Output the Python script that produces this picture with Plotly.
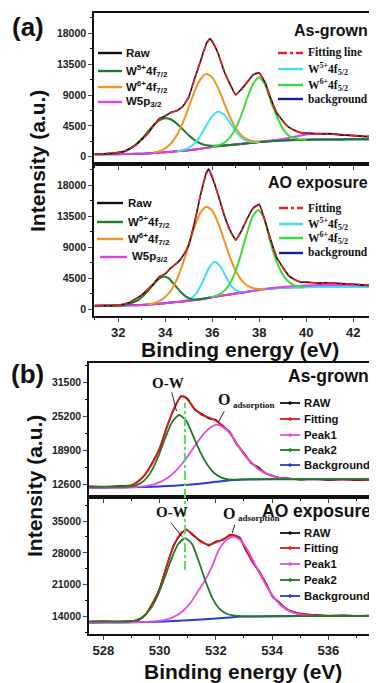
import plotly.graph_objects as go

# ---------------- DATA ----------------
# (a) W 4f, As-grown
be_a1 = [31.0, 31.25, 31.5, 31.75, 32.0, 32.25, 32.5, 32.75, 33.0, 33.25, 33.5, 33.75, 34.0, 34.25, 34.5, 34.75,
         35.0, 35.25, 35.5, 35.75, 35.9, 36.0, 36.25, 36.5, 36.75, 37.0, 37.25, 37.5, 37.75, 38.0, 38.25, 38.5,
         38.75, 39.0, 39.25, 39.5, 39.75, 40.0, 40.5, 41.0, 41.5, 42.0, 42.5, 43.0]
fit_a1 = [370, 390, 450, 520, 620, 740, 1150, 1750, 2450, 3350, 4450, 5450, 6000, 6400, 6750, 7300,
          8800, 11300, 14000, 16400, 17150, 16900, 15000, 12600, 10550, 9100, 9800, 11000, 11900, 12150, 10900, 8300,
          6450, 5150, 4350, 3800, 3550, 3420, 3380, 3320, 3220, 3080, 2980, 2920]
raw_a1 = [390, 360, 470, 500, 650, 720, 1200, 1700, 2500, 3300, 4500, 5600, 5900, 6500, 6700, 7350,
          8700, 11400, 13900, 16500, 17250, 16800, 15100, 12500, 10650, 9000, 9900, 10900, 12000, 12250, 10800, 8400,
          6350, 5250, 4300, 3850, 3500, 3450, 3350, 3360, 3180, 3100, 2950, 2940]
half_grid_a = [31.0, 31.5, 32.0, 32.5, 33.0, 33.5, 34.0, 34.5, 35.0, 35.5, 36.0, 36.5, 37.0, 37.5, 38.0, 38.5,
               39.0, 39.5, 40.0, 40.5, 41.0, 41.5, 42.0, 42.5, 43.0]
bg_a1 = [350, 355, 365, 390, 440, 530, 660, 800, 950, 1150, 1420, 1620, 1780, 1950, 2130, 2280,
         2380, 2440, 2480, 2500, 2515, 2525, 2535, 2540, 2545]
w5p_a1 = [350, 355, 365, 390, 440, 530, 660, 800, 950, 1150, 1420, 1620, 1790, 1980, 2180, 2380,
          2600, 2900, 3250, 3330, 3300, 3200, 3060, 2960, 2880]
w5_72_a1_x = [31.0, 31.5, 31.75, 32.0, 32.25, 32.5, 32.75, 33.0, 33.25, 33.5, 33.75, 34.0, 34.25, 34.5, 34.75,
              35.0, 35.25, 35.5, 35.75, 36.0, 36.25, 36.5, 37.0, 38.0, 39.0, 40.0, 41.0, 42.0, 43.0]
w5_72_a1 = [350, 384, 437, 548, 775, 1166, 1778, 2614, 3592, 4551, 5283, 5600, 5423, 4821, 3982,
            3124, 2408, 1926, 1680, 1603, 1607, 1649, 1780, 2130, 2380, 2480, 2515, 2535, 2545]
w6_72_a1_x = [33.5, 33.75, 34.0, 34.25, 34.5, 34.75, 35.0, 35.25, 35.5, 35.75, 36.0, 36.25, 36.5, 36.75, 37.0,
              37.25, 37.5, 37.75, 38.0]
w6_72_a1 = [612, 817, 1221, 1960, 3195, 4981, 7219, 9521, 11303, 12070, 11573, 10011, 7889, 5811, 4175,
            3090, 2511, 2267, 2212]
w5_52_a1_x = [34.5, 34.75, 35.0, 35.25, 35.5, 35.75, 36.0, 36.25, 36.5, 36.75, 37.0, 37.25, 37.5, 37.75, 38.0]
w5_52_a1 = [825, 976, 1298, 1947, 3070, 4561, 5946, 6570, 6146, 4981, 3700, 2767, 2298, 2146, 2155]
w6_52_a1_x = [36.0, 36.25, 36.5, 36.75, 37.0, 37.25, 37.5, 37.75, 38.0, 38.25, 38.5, 38.75, 39.0, 39.25, 39.5,
              39.75, 40.0]
w6_52_a1 = [1458, 1662, 2036, 2778, 4136, 6193, 8638, 10715, 11590, 10500, 8000, 5900, 4100, 3100, 2700,
            2540, 2500]

# (a) W 4f, AO exposure
be_a2 = [31.0, 31.5, 32.0, 32.25, 32.5, 32.75, 33.0, 33.25, 33.5, 33.75, 34.0, 34.25, 34.5, 34.75, 35.0, 35.25,
         35.5, 35.75, 35.85, 36.0, 36.25, 36.5, 36.75, 37.0, 37.25, 37.5, 37.75, 38.0, 38.25, 38.5, 38.75, 39.0,
         39.25, 39.5, 39.75, 40.0, 40.5, 41.0, 41.5, 42.0, 42.5, 43.0]
fit_a2 = [480, 490, 560, 700, 1000, 1450, 2050, 2800, 3700, 4600, 5150, 5900, 6700, 7600, 9400, 12500,
          16600, 19600, 20200, 19300, 16500, 13800, 11400, 10100, 11300, 13300, 14600, 15050, 12800, 9800, 7500, 6000,
          4900, 4250, 3950, 3850, 3800, 3780, 3700, 3600, 3480, 3380]
raw_a2 = [470, 510, 540, 720, 980, 1500, 2000, 2850, 3650, 4700, 5100, 6000, 6650, 7700, 9300, 12600,
          16500, 19800, 20300, 19100, 16600, 13700, 11500, 10000, 11400, 13200, 14700, 15200, 12700, 9900, 7400, 6100,
          4850, 4300, 3900, 3900, 3750, 3820, 3680, 3620, 3450, 3400]
bg_a2 = [470, 480, 500, 530, 590, 700, 850, 1010, 1200, 1420, 1710, 1980, 2240, 2500, 2770, 2970,
         3090, 3155, 3185, 3200, 3210, 3215, 3220, 3225, 3230]
w5p_a2 = [470, 480, 500, 530, 590, 700, 850, 1010, 1200, 1420, 1710, 1980, 2240, 2510, 2800, 3030,
          3200, 3320, 3420, 3480, 3500, 3490, 3460, 3420, 3380]
w5_72_a2_x = [31.0, 31.9, 32.15, 32.4, 32.65, 32.9, 33.15, 33.4, 33.65, 33.9, 34.15, 34.4, 34.65, 34.9, 35.15,
              35.4, 35.65, 35.9]
w5_72_a2 = [470, 508, 554, 680, 965, 1400, 2200, 3150, 4150, 4695, 4450, 3500, 2500, 1750, 1400,
            1420, 1530, 1660]
w6_72_a2_x = [33.25, 33.5, 33.75, 34.0, 34.25, 34.5, 34.75, 35.0, 35.25, 35.5, 35.75, 36.0, 36.25, 36.5, 36.75,
              37.0, 37.25, 37.5, 37.75, 38.0, 38.25]
w6_72_a2 = [693, 846, 1155, 1727, 2724, 4319, 6562, 9267, 11945, 13992, 14850, 14282, 12495, 10047, 7572,
            5549, 4164, 3377, 3025, 2916, 2933]
w5_52_a2_x = [34.85, 35.1, 35.35, 35.6, 35.85, 36.1, 36.35, 36.6, 36.85, 37.1, 37.35, 37.6, 38.1, 38.6, 39.1,
              39.6, 40.5, 41.5, 43.0]
w5_52_a2 = [1201, 1541, 2385, 3989, 5894, 6870, 6174, 4544, 3195, 2591, 2481, 2550, 2810, 3000, 3100,
            3150, 3180, 3190, 3190]
w6_52_a2_x = [35.95, 36.2, 36.45, 36.7, 36.95, 37.2, 37.45, 37.7, 37.95, 38.2, 38.45, 38.7, 38.95, 39.2, 39.45,
              39.7, 39.95]
w6_52_a2 = [1727, 1983, 2467, 3412, 5113, 7676, 10704, 13284, 14385, 13300, 10000, 7200, 5300, 4100, 3500,
            3280, 3220]

# (b) O 1s, As-grown
be_b1 = [527.5, 528.0, 528.5, 529.0, 529.25, 529.5, 529.75, 530.0, 530.25, 530.5, 530.75, 530.85, 531.0, 531.25,
         531.5, 531.75, 532.0, 532.25, 532.5, 532.75, 533.0, 533.25, 533.5, 533.75, 534.0, 534.25, 534.5, 535.0,
         535.5, 536.0, 536.5, 537.0, 537.7]
fit_b1 = [12100, 12100, 12120, 12400, 13100, 14500, 16500, 19300, 23000, 26600, 28800, 29000, 28300, 26600,
          25500, 25000, 24400, 23500, 22100, 20100, 18200, 16700, 15600, 14700, 14100, 13800, 13600, 13500,
          13450, 13450, 13400, 13400, 13380]
raw_b1 = [12150, 12050, 12200, 12350, 13200, 14400, 16700, 19100, 23200, 26400, 29000, 28900, 28500, 26400,
          25700, 24800, 24600, 23300, 22300, 19900, 18400, 16500, 15800, 14600, 14200, 13700, 13700, 13400,
          13550, 13350, 13500, 13300, 13450]
bg_b1_x = [527.5, 528.0, 528.5, 529.0, 529.5, 530.0, 530.5, 531.0, 531.5, 532.0, 532.5, 533.0, 533.5, 534.0,
           535.0, 536.0, 537.7]
bg_b1 = [11900, 11920, 11950, 11990, 12050, 12150, 12280, 12450, 12700, 13000, 13300, 13430, 13470, 13480,
         13490, 13495, 13500]
p2_b1_x = [527.5, 528.0, 528.5, 528.7, 528.95, 529.2, 529.45, 529.7, 529.95, 530.2, 530.45, 530.7, 530.95,
           531.2, 531.45, 531.7, 531.95, 532.2, 532.45, 532.7, 533.5, 534.5, 535.5, 536.5, 537.7]
p2_b1 = [12050, 12050, 12060, 12080, 12150, 12430, 13230, 14910, 17690, 21170, 24210, 25470, 24380,
         21500, 18500, 16200, 14600, 13800, 13450, 13430, 13480, 13500, 13500, 13510, 13520]
p1_b1_x = [527.5, 528.5, 529.0, 529.3, 529.55, 529.8, 530.05, 530.3, 530.55, 530.8, 531.05, 531.3, 531.55,
           531.8, 532.05, 532.3, 532.55, 532.8, 533.05, 533.3, 533.55, 533.8, 534.05, 534.3, 534.55, 535.0,
           536.0, 537.7]
p1_b1 = [11900, 11950, 12000, 12116, 12268, 12548, 13034, 13792, 14907, 16389, 18173, 20074, 21834,
         23105, 23660, 23000, 21800, 19700, 17800, 16400, 15200, 14500, 14000, 13750, 13600, 13500,
         13500, 13500]

# (b) O 1s, AO exposure
be_b2 = [527.5, 528.0, 528.5, 529.0, 529.25, 529.5, 529.75, 530.0, 530.25, 530.5, 530.75, 530.95, 531.2, 531.45,
         531.75, 532.0, 532.25, 532.5, 532.65, 532.85, 533.05, 533.3, 533.55, 533.8, 534.0, 534.25, 534.5, 534.75,
         535.0, 535.5, 536.0, 536.5, 537.0, 537.7]
fit_b2 = [12950, 12950, 12950, 13000, 13300, 14400, 17000, 20000, 25200, 29500, 32300, 33000, 32000, 30500,
          29800, 30300, 31000, 31800, 31950, 31200, 29000, 26000, 23900, 21000, 18700, 17000, 15800, 15000,
          14700, 14350, 14250, 14250, 14200, 14250]
raw_b2 = [12900, 13000, 12900, 13050, 13200, 14500, 16900, 20200, 25000, 29700, 32100, 33200, 31800, 30700,
          29600, 30500, 30800, 32000, 31800, 31400, 28800, 26200, 23700, 21200, 18500, 17200, 15600, 15100,
          14600, 14400, 14200, 14300, 14150, 14300]
bg_b2_x = [527.5, 528.0, 529.0, 530.0, 531.0, 532.0, 532.5, 533.0, 534.0, 535.0, 536.0, 537.7]
bg_b2 = [12700, 12720, 12760, 12900, 13200, 13600, 13850, 14020, 14100, 14130, 14150, 14170]
p2_b2_x = [527.5, 528.0, 528.4, 528.65, 528.9, 529.15, 529.4, 529.65, 529.9, 530.15, 530.4, 530.65, 530.9,
           531.15, 531.4, 531.65, 531.9, 532.15, 532.4, 532.65, 532.9, 533.15, 534.0, 535.0, 536.0, 537.7]
p2_b2 = [12900, 12900, 12900, 12900, 12950, 13200, 13955, 15529, 18215, 22047, 26323, 29832, 31220,
         29982, 26000, 21500, 17800, 15600, 14600, 14250, 14137, 14077, 14100, 14130, 14150, 14170]
p1_b2_x = [527.5, 528.5, 529.3, 529.85, 530.1, 530.35, 530.6, 530.85, 531.1, 531.35, 531.6, 531.85, 532.1,
           532.35, 532.6, 532.85, 533.1, 533.35, 533.6, 533.85, 534.1, 534.35, 534.6, 534.85, 535.1, 535.35,
           536.0, 537.7]
p1_b2 = [12700, 12740, 12800, 12986, 13177, 13565, 14246, 15368, 17055, 19433, 21800, 24800, 28575,
         30698, 31560, 30908, 28935, 26004, 23019, 20173, 17905, 16308, 15318, 14680, 14365, 14231,
         14150, 14170]
ow_line_be = 530.9

labels_a_left = ["Raw", "W<sup>5+</sup>4f<sub>7/2</sub>", "W<sup>6+</sup>4f<sub>7/2</sub>", "W5p<sub>3/2</sub>"]
labels_a1_right = ["Fitting line", "W<sup>5+</sup>4f<sub>5/2</sub>", "W<sup>6+</sup>4f<sub>5/2</sub>", "background"]
labels_a2_right = ["Fitting", "W<sup>5+</sup>4f<sub>5/2</sub>", "W<sup>6+</sup>4f<sub>5/2</sub>", "background"]
labels_b = ["RAW", "Fitting", "Peak1", "Peak2", "Background"]

# ---------------- STYLE ----------------
# The page body has an 8px margin, so the figure is sized to the visible area
# and every layout position below is given in page pixels, minus that offset.
OFF = 8
W, H = 377 - OFF, 683 - OFF
SANS = "Liberation Sans, Arial, sans-serif"
SERIF = "Liberation Serif, Times New Roman, serif"
C_RAW = "#111111"
C_FIT = "#e8202a"
C_W5_72 = "#1f7d2a"
C_W6_72 = "#f39324"
C_W5P = "#e23ee0"
C_W5_52 = "#40e0ee"
C_W6_52 = "#3ddc3d"
C_BG = "#14209a"
C_P1 = "#e44ce4"
C_P2 = "#1f7a22"
C_BGB = "#2a3ccc"
C_FITB = "#e01818"


def X(p):
    return (p - OFF) / W


def Y(p):
    return 1 - (p - OFF) / H


fig = go.Figure()


def add(x, y, color, ax, width=2.0, dash="solid", smooth=0.6):
    fig.add_trace(go.Scatter(x=x, y=y, mode="lines", showlegend=False, hoverinfo="skip",
                             line=dict(color=color, width=width, dash=dash, shape="spline", smoothing=smooth),
                             xaxis="x" + ax, yaxis="y" + ax))


# panel a1
add(half_grid_a, bg_a1, C_BG, "")
add(half_grid_a, w5p_a1, C_W5P, "")
add(w5_72_a1_x, w5_72_a1, C_W5_72, "")
add(w5_52_a1_x, w5_52_a1, C_W5_52, "")
add(w6_72_a1_x, w6_72_a1, C_W6_72, "")
add(w6_52_a1_x, w6_52_a1, C_W6_52, "")
add(be_a1, raw_a1, C_RAW, "", width=1.6, smooth=0.3)
add(be_a1, fit_a1, C_FIT, "", width=1.6, dash="dashdot")
# panel a2
add(half_grid_a, bg_a2, C_BG, "2")
add(w5_52_a2_x, w5_52_a2, C_W5_52, "2")
add(half_grid_a, w5p_a2, C_W5P, "2")
add(w5_72_a2_x, w5_72_a2, C_W5_72, "2")
add(w6_72_a2_x, w6_72_a2, C_W6_72, "2")
add(w6_52_a2_x, w6_52_a2, C_W6_52, "2")
add(be_a2, raw_a2, C_RAW, "2", width=1.6, smooth=0.3)
add(be_a2, fit_a2, C_FIT, "2", width=1.6, dash="dashdot")
# panel b1
add(bg_b1_x, bg_b1, C_BGB, "3")
add(be_b1, raw_b1, C_RAW, "3", width=1.6, smooth=0.3)
add(be_b1, fit_b1, C_FITB, "3", width=1.8)
add(p1_b1_x, p1_b1, C_P1, "3", width=1.8)
add(p2_b1_x, p2_b1, C_P2, "3", width=1.8)
# panel b2
add(bg_b2_x, bg_b2, C_BGB, "4")
add(be_b2, raw_b2, C_RAW, "4", width=1.6, smooth=0.3)
add(be_b2, fit_b2, C_FITB, "4", width=1.8)
add(p1_b2_x, p1_b2, C_P1, "4", width=1.8)
add(p2_b2_x, p2_b2, C_P2, "4", width=1.8)

tick_font_y = dict(family=SANS, size=10.5, color="#222", weight="bold")
tick_font_x = dict(family=SANS, size=13, color="#222", weight="bold")


def yax(dom, rng, tick0, dtick, anchor):
    return dict(domain=dom, range=rng, tick0=tick0, dtick=dtick, tickformat="d", ticks="outside", ticklen=4,
                tickwidth=1.2, showline=True, linecolor="#111", linewidth=1.6, showgrid=False, zeroline=False,
                tickfont=tick_font_y, anchor=anchor,
                minor=dict(ticks="outside", ticklen=2, dtick=dtick / 2, tick0=tick0, tickcolor="#111"))


def xax(dom, rng, tick0, labels, anchor):
    return dict(domain=dom, range=rng, tick0=tick0, dtick=2, ticks="outside", ticklen=4, tickwidth=1.2,
                showline=True, linecolor="#111", linewidth=1.6, mirror=True, showgrid=False, zeroline=False,
                showticklabels=labels, tickfont=tick_font_x, anchor=anchor,
                minor=dict(ticks="outside", ticklen=2, dtick=1, tickcolor="#111"))


xa_dom = [X(94), 1.0]
xb_dom = [X(89), 1.0]
a1_dom = [Y(164), Y(13)]
a2_dom = [Y(316), Y(164)]
b1_dom = [Y(497), Y(363)]
b2_dom = [Y(634), Y(497)]

ya1 = yax(a1_dom, [-1066, 20964], 0, 4500, "x")
ya2 = yax(a2_dom, [-1016, 21048], 0, 4500, "x2")
yb1 = yax(b1_dom, [10175, 35175], 12600, 6300, "x3")
yb2 = yax(b2_dom, [10204, 40267], 14000, 7000, "x4")
xa1 = xax(xa_dom, [30.97, 43.01], 0, False, "y")
xa2 = xax(xa_dom, [30.97, 43.01], 0, True, "y2")
xb1 = xax(xb_dom, [527.49, 537.73], 528, False, "y3")
xb2 = xax(xb_dom, [527.49, 537.73], 528, True, "y4")

annotations = []
shapes = []


def text(x, y, s, size, family=SANS, anchor="center", angle=0, bold=True, color="#111"):
    annotations.append(dict(x=X(x), y=Y(y), xref="paper", yref="paper", text=s, showarrow=False,
                            xanchor=anchor, yanchor="middle", textangle=angle,
                            font=dict(family=family, size=size, color=color, weight="bold" if bold else "normal")))


def legline(x0, x1, y, color, dash="solid", width=2.4, dot=False):
    shapes.append(dict(type="line", xref="paper", yref="paper", x0=X(x0), x1=X(x1), y0=Y(y), y1=Y(y),
                       line=dict(color=color, width=width, dash=dash)))
    if dot:
        xm = (x0 + x1) / 2
        shapes.append(dict(type="circle", xref="paper", yref="paper", x0=X(xm - 1.5), x1=X(xm + 1.5),
                           y0=Y(y + 1.5), y1=Y(y - 1.5), fillcolor=color, line=dict(color=color, width=0.5)))


# panel labels and titles
text(28, 27, "(a)", 26)
text(27, 374, "(b)", 26)
text(370, 30, "As-grown", 16, anchor="right")
text(370, 182, "AO exposure", 16, anchor="right")
text(371, 376, "As-grown", 17.5, anchor="right")
text(373, 511, "AO exposure", 17.5, anchor="right")
text(37, 161, "Intensity (a.u.)", 21, angle=-90)
text(34, 486, "Intensity (a.u.)", 21, angle=-90)
text(240, 349, "Binding energy (eV)", 21)
text(243, 671, "Binding energy (eV)", 21)

# legend a1
left_cols = [C_RAW, C_W5_72, C_W6_72, C_W5P]
for lab, col, yy in zip(labels_a_left, left_cols, [53, 71, 87, 102]):
    legline(98, 122, yy, col)
    text(124, yy, lab, 11.5, anchor="left")
right_cols = [C_FIT, C_W5_52, C_W6_52, C_BG]
for i, (lab, col, yy) in enumerate(zip(labels_a1_right, right_cols, [53, 69, 85, 99])):
    legline(278, 303, yy, col, dash="dashdot" if i == 0 else "solid")
    text(306, yy, lab, 11.5, family=SERIF, anchor="left")
# legend a2
for lab, col, yy in zip(labels_a_left, left_cols, [203, 222, 239, 257]):
    x0 = 100 if col == C_W5P else 97
    legline(x0, 123 if col != C_W5P else 127, yy, col)
    text(126 if col != C_W5P else 130, yy, lab, 11.5, anchor="left")
for i, (lab, col, yy) in enumerate(zip(labels_a2_right, right_cols, [208, 224, 238, 253])):
    legline(279, 303, yy, col, dash="dashdot" if i == 0 else "solid")
    text(306, yy, lab, 11.5, family=SERIF, anchor="left")
# legend b
b_cols = [C_RAW, C_FITB, C_P1, C_P2, C_BGB]
for lab, col, yy in zip(labels_b, b_cols, [403, 419, 435, 450, 465]):
    legline(280, 300, yy, col, width=1.8, dot=True)
    text(302, yy, lab, 11.3, anchor="left")
for lab, col, yy in zip(labels_b, b_cols, [533, 548, 564, 580, 596]):
    legline(280, 300, yy, col, width=1.8, dot=True)
    text(302, yy, lab, 11.3, anchor="left")

# peak annotations in (b)
text(168, 383, "O-W", 15, family=SERIF)
text(224, 399, "O", 16, family=SERIF)
text(231, 405, "adsorption", 9, family=SERIF, anchor="left")
text(172, 512, "O-W", 15, family=SERIF)
text(229, 513, "O", 16, family=SERIF)
text(236, 518, "adsorption", 9, family=SERIF, anchor="left")


def arrow(xd, yd, ax, ay, axis):
    annotations.append(dict(x=xd, y=yd, xref="x" + axis, yref="y" + axis, text="", showarrow=True,
                            ax=ax, ay=ay, arrowhead=0, arrowwidth=1, arrowcolor="#222"))


arrow(530.6, 26220, -5, -20, "3")
arrow(532.08, 24040, 7, -13, "3")
arrow(530.8, 31555, -12, -15, "4")
arrow(532.58, 32300, 3, -10, "4")

# O-W dash-dot guide line across both (b) panels
shapes.append(dict(type="line", xref="x3", yref="paper", x0=ow_line_be, x1=ow_line_be, y0=Y(570), y1=Y(403),
                   line=dict(color="#55dd55", width=2, dash="dashdot")))

fig.update_layout(
    width=W, height=H, margin=dict(l=0, r=0, t=0, b=0),
    paper_bgcolor="white", plot_bgcolor="white", showlegend=False,
    xaxis=xa1, yaxis=ya1, xaxis2=xa2, yaxis2=ya2, xaxis3=xb1, yaxis3=yb1, xaxis4=xb2, yaxis4=yb2,
    annotations=annotations, shapes=shapes,
)

fig.write_html("out.html")
